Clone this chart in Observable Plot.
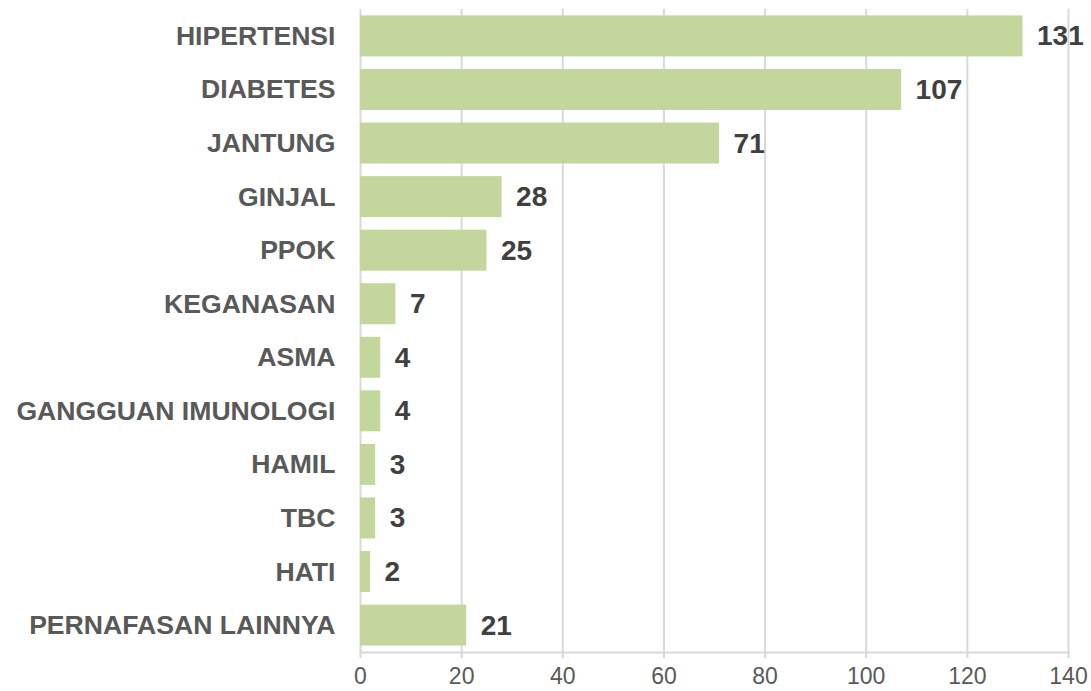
<!DOCTYPE html>
<html>
<head>
<meta charset="utf-8">
<script src="https://cdn.jsdelivr.net/npm/d3@7"></script>
<script src="https://cdn.jsdelivr.net/npm/@observablehq/plot@0.6"></script>
<style>
  html, body { margin: 0; padding: 0; background: #ffffff; }
  #chart { width: 1091px; height: 691px; }
</style>
</head>
<body>
<div id="chart"></div>
<script>
const categories = [
  "HIPERTENSI", "DIABETES", "JANTUNG", "GINJAL", "PPOK", "KEGANASAN",
  "ASMA", "GANGGUAN IMUNOLOGI", "HAMIL", "TBC", "HATI", "PERNAFASAN LAINNYA"
];
const values = [131, 107, 71, 28, 25, 7, 4, 4, 3, 3, 2, 21];
const xTicks = [0, 20, 40, 60, 80, 100, 120, 140];

const data = categories.map((c, i) => ({category: c, value: values[i]}));

const chart = Plot.plot({
  width: 1091,
  height: 691,
  marginLeft: 360,
  marginRight: 23,
  marginTop: 9,
  marginBottom: 39,
  style: {fontFamily: "'Liberation Sans', Arial, sans-serif", background: "#ffffff", overflow: "visible"},
  x: {domain: [0, 140], ticks: xTicks},
  y: {domain: categories, paddingInner: 0.235, paddingOuter: 0.12, round: false},
  marks: [
    Plot.gridX(xTicks, {stroke: "#d9d9d9", strokeOpacity: 1, strokeWidth: 2}),
    Plot.frame({anchor: "bottom", stroke: "#d9d9d9", strokeWidth: 2}),
    Plot.barX(data, {x: "value", y: "category", fill: "#c3d69b"}),
    Plot.text(data, {
      x: "value", y: "category", text: d => String(d.value),
      textAnchor: "start", dx: 14, fontSize: 28, fontWeight: "bold", fill: "#404040"
    }),
    Plot.axisX(xTicks, {
      tickSize: 6, tickPadding: 9, stroke: "#d9d9d9", strokeWidth: 2,
      fontSize: 23, fill: "#595959", label: null
    }),
    Plot.axisY({
      tickSize: 0, tickPadding: 25, fontSize: 26.6, fontWeight: "bold",
      fill: "#595959", label: null
    })
  ]
});
document.getElementById("chart").appendChild(chart);
</script>
</body>
</html>
